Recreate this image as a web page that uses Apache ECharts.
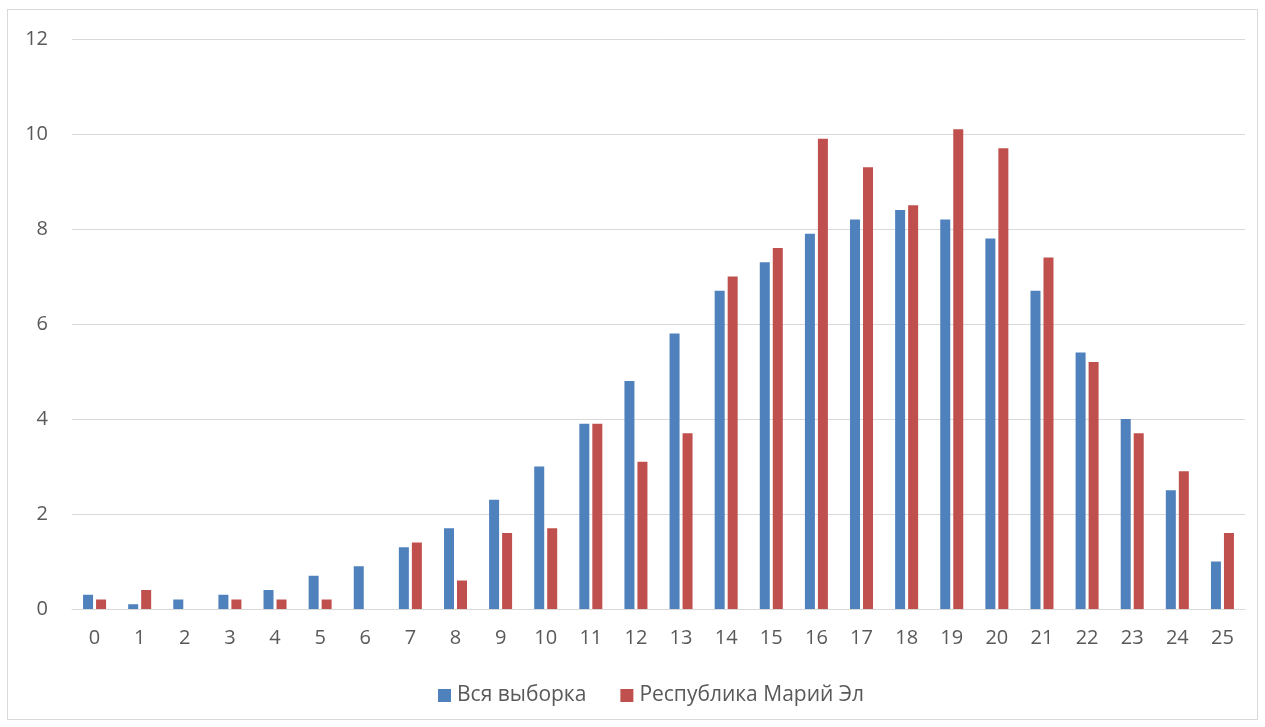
<!DOCTYPE html>
<html>
<head>
<meta charset="utf-8">
<script src="https://cdn.jsdelivr.net/npm/echarts@6/dist/echarts.min.js"></script>
<style>
html,body{margin:0;padding:0;background:#fff;}
#frame{position:absolute;left:7px;top:9px;width:1251px;height:711px;border:1px solid #d9d9d9;box-sizing:border-box;}
#chart{position:absolute;left:0;top:0;width:1265px;height:727px;}
</style>
</head>
<body>
<div id="frame"></div>
<div id="chart"></div>
<script>
const categories = ['0','1','2','3','4','5','6','7','8','9','10','11','12','13','14','15','16','17','18','19','20','21','22','23','24','25'];
const seriesNames = ['Вся выборка', 'Республика Марий Эл'];
const allSample = [0.3,0.1,0.2,0.3,0.4,0.7,0.9,1.3,1.7,2.3,3.0,3.9,4.8,5.8,6.7,7.3,7.9,8.2,8.4,8.2,7.8,6.7,5.4,4.0,2.5,1.0];
const mariEl = [0.2,0.4,0,0.2,0.2,0.2,0,1.4,0.6,1.6,1.7,3.9,3.1,3.7,7.0,7.6,9.9,9.3,8.5,10.1,9.7,7.4,5.2,3.7,2.9,1.6];

const chart = echarts.init(document.getElementById('chart'));
const font = 'Open Sans, Liberation Sans, sans-serif';
chart.setOption({
  animation: false,
  textStyle: {fontFamily: font},
  grid: {left: 72, right: 20, top: 39, bottom: 118, containLabel: false},
  legend: {
    bottom: 16, left: 433, itemWidth: 13, itemHeight: 13, itemGap: 34,
    icon: 'rect',
    textStyle: {color: '#595959', fontSize: 21, fontFamily: font, padding: [0, 0, 0, 1]},
    data: seriesNames
  },
  xAxis: {
    type: 'category', data: categories,
    axisLine: {lineStyle: {color: '#d9d9d9', width: 1}},
    axisTick: {show: false},
    axisLabel: {color: '#595959', fontSize: 20, margin: 19}
  },
  yAxis: {
    type: 'value', min: 0, max: 12, interval: 2,
    axisLine: {show: false}, axisTick: {show: false},
    splitLine: {lineStyle: {color: '#d9d9d9', width: 1}},
    axisLabel: {color: '#595959', fontSize: 20, margin: 24}
  },
  series: [
    {name: seriesNames[0], type: 'bar', data: allSample, barWidth: 10, barGap: '30%',
     itemStyle: {color: '#4f81bd'}},
    {name: seriesNames[1], type: 'bar', data: mariEl, barWidth: 10, barGap: '30%',
     itemStyle: {color: '#c0504d'}}
  ]
});
</script>
</body>
</html>
